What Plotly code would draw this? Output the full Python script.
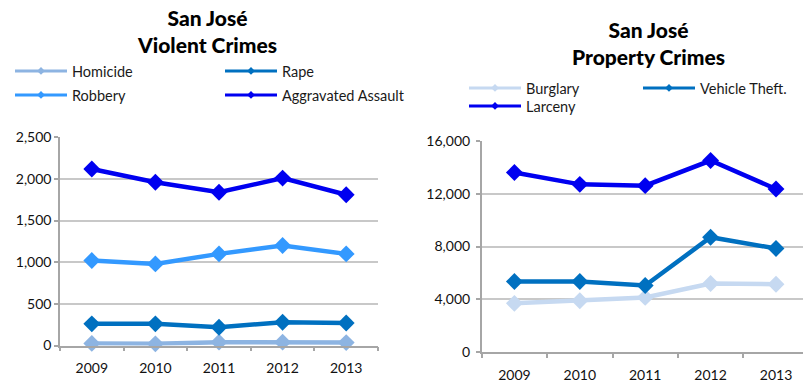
import plotly.graph_objects as go

W, H = 803, 383

years = ["2009", "2010", "2011", "2012", "2013"]

# Violent crimes (left chart)
homicide = [25, 20, 40, 40, 35]
rape = [260, 260, 220, 280, 270]
robbery = [1020, 980, 1100, 1200, 1100]
agg_assault = [2120, 1960, 1840, 2010, 1810]

# Property crimes (right chart)
burglary = [3700, 3900, 4150, 5200, 5150]
vehicle_theft = [5350, 5350, 5050, 8700, 7850]
larceny = [13600, 12700, 12600, 14500, 12350]

violent_ticks = [0, 500, 1000, 1500, 2000, 2500]
property_ticks = [0, 4000, 8000, 12000, 16000]

FONT = "Lato"
C_HOM = "#8DB4E2"
C_RAPE = "#0070C0"
C_ROB = "#3399FF"
C_AGG = "#0000F0"
C_BUR = "#C6D9F1"
C_VEH = "#0070C0"
C_LAR = "#0000F0"


def px_x(x):
    return x / W


def px_y(y):
    return 1 - y / H


fig = go.Figure()

series = [
    # name, values, colour, x-axis, y-axis, legend id, legend position (px)
    ("Homicide", homicide, C_HOM, "x", "y", "legend", (10, 71)),
    ("Rape", rape, C_RAPE, "x", "y", "legend2", (220, 71)),
    ("Robbery", robbery, C_ROB, "x", "y", "legend3", (10, 95)),
    ("Aggravated Assault", agg_assault, C_AGG, "x", "y", "legend4", (220, 95)),
    ("Burglary", burglary, C_BUR, "x2", "y2", "legend5", (464, 88)),
    ("Vehicle Theft.", vehicle_theft, C_VEH, "x2", "y2", "legend6", (638, 88)),
    ("Larceny", larceny, C_LAR, "x2", "y2", "legend7", (464, 106)),
]

for name, vals, col, xa, ya, leg, _ in series:
    fig.add_trace(go.Scatter(
        x=years, y=vals, name=name, mode="lines+markers",
        xaxis=xa, yaxis=ya, showlegend=False, cliponaxis=False,
        line=dict(color=col, width=4.5),
        marker=dict(symbol="diamond", size=13, color=col),
    ))

# Legend entries with slimmer keys
for name, vals, col, xa, ya, leg, _ in series:
    fig.add_trace(go.Scatter(
        x=[None], y=[None], name=name, mode="lines+markers",
        xaxis=xa, yaxis=ya, legend=leg, showlegend=True,
        line=dict(color=col, width=3),
        marker=dict(symbol="diamond", size=6, color=col),
    ))

legend_layout = {}
for name, vals, col, xa, ya, leg, (lx, ly) in series:
    legend_layout[leg] = dict(
        x=px_x(lx), y=px_y(ly), xanchor="left", yanchor="middle",
        orientation="v", itemwidth=52, bgcolor="rgba(0,0,0,0)",
        borderwidth=0, font=dict(family=FONT, size=14.5, color="#1a1a1a"),
        itemclick=False, itemdoubleclick=False,
    )

axis_common = dict(
    showline=True, linecolor="#A6A6A6", linewidth=1.5,
    ticks="outside", tickcolor="#A6A6A6", ticklen=4, tickwidth=1.5,
    tickfont=dict(family=FONT, size=14, color="#111111"),
    zeroline=False,
)

fig.update_layout(
    width=W, height=H,
    margin=dict(l=0, r=0, t=0, b=0, autoexpand=False),
    paper_bgcolor="white", plot_bgcolor="white",
    font=dict(family=FONT, color="#111111"),
    xaxis=dict(
        axis_common, type="category", domain=[60 / W, 378 / W],
        range=[-0.5, 4.5], tickson="boundaries", showgrid=False,
        anchor="y", ticklabelstandoff=9,
    ),
    yaxis=dict(
        axis_common, domain=[px_y(345.5), px_y(137.3)], range=[0, 2500],
        tickvals=violent_ticks, tickformat=",", showgrid=True,
        gridcolor="#C8C8C8", gridwidth=1.5, anchor="x", ticklabelstandoff=0,
    ),
    xaxis2=dict(
        axis_common, type="category", domain=[481.7 / W, 1.0],
        range=[-0.5, -0.5 + (W - 481.7) / 65.4], tickson="boundaries",
        showgrid=False, anchor="y2", ticklabelstandoff=9,
    ),
    yaxis2=dict(
        axis_common, domain=[px_y(352.3), px_y(140.7)], range=[0, 16000],
        tickvals=property_ticks, tickformat=",", showgrid=True,
        gridcolor="#C8C8C8", gridwidth=1.5, anchor="x2", ticklabelstandoff=3,
    ),
    **legend_layout,
)

title_font = dict(family=FONT, size=21, weight=900, color="#000000")
fig.add_annotation(
    text="San José<br>Violent Crimes", xref="paper", yref="paper",
    x=px_x(207), y=px_y(30.5), xanchor="center", yanchor="middle",
    showarrow=False, font=title_font,
)
fig.add_annotation(
    text="San José<br>Property Crimes", xref="paper", yref="paper",
    x=px_x(648), y=px_y(43), xanchor="center", yanchor="middle",
    showarrow=False, font=title_font,
)

fig.write_html("out.html")
